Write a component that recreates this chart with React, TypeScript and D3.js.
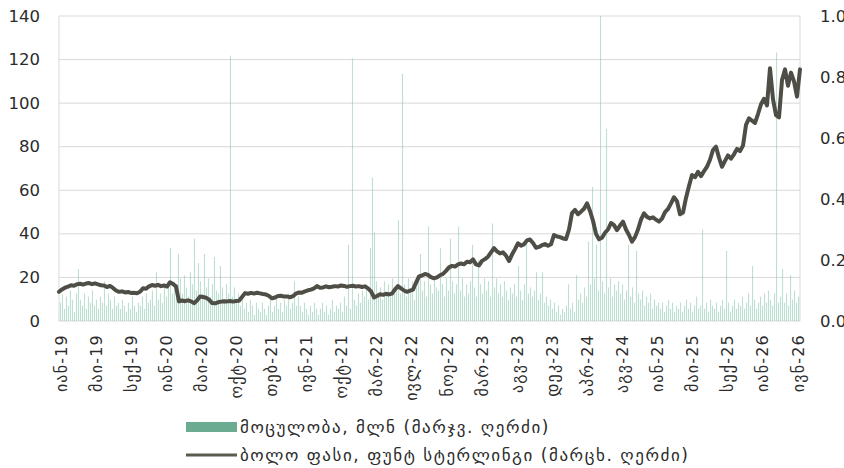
import React from "react";
import * as d3 from "d3";

// closing price (left axis), sampled uniformly over the period
const closePrice: number[] = [
  13.4, 14.5, 15.3, 15.8, 16.4, 16.2, 16.9, 17.1, 16.7, 17.2,
  17.4, 16.9, 17.3, 16.8, 16.4, 16.3, 15.6, 16.1, 15.2, 14.0,
  13.4, 13.6, 13.1, 13.3, 12.9, 13.0, 12.7, 13.4, 15.0, 14.8,
  15.9, 16.5, 16.2, 16.6, 16.0, 16.3, 15.8, 17.8, 17.0, 15.9,
  9.0, 9.4, 9.1, 9.5, 9.0, 8.2, 9.4, 11.2, 11.0, 10.7,
  9.8, 8.3, 8.1, 8.6, 8.9, 9.1, 9.0, 9.2, 8.9, 9.2,
  9.3, 11.0, 12.8, 12.5, 12.9, 12.6, 13.0, 12.7, 12.4, 12.2,
  11.5, 10.4, 10.8, 11.5, 11.6, 11.2, 11.3, 10.9, 11.4, 12.6,
  13.1, 13.0, 13.6, 14.1, 14.4, 15.0, 16.0, 15.3, 15.4, 15.9,
  15.5, 15.7, 16.0, 15.8, 16.3, 16.1, 15.7, 16.0, 16.2, 15.8,
  16.0, 15.6, 15.9, 15.0, 13.6, 10.8, 11.5, 12.3, 12.0, 12.5,
  12.2, 12.6, 14.5, 16.0, 15.0, 14.0, 13.4, 13.9, 14.4, 17.5,
  20.5, 20.9, 21.6, 21.2, 20.1, 19.6, 20.0, 21.0, 21.6, 23.0,
  24.6, 25.3, 25.0, 26.0, 26.4, 26.0, 27.2, 27.0, 28.3, 26.0,
  25.5, 27.6, 28.4, 29.5, 31.5, 33.4, 32.0, 31.0, 31.5, 30.0,
  27.5, 30.5, 33.0, 35.7, 34.6, 35.2, 37.0, 37.4, 35.8, 33.6,
  34.0, 34.8, 35.3, 34.5, 35.2, 39.5, 38.8, 38.5, 37.9, 37.6,
  42.0, 49.5, 51.0, 49.0, 50.2, 51.5, 54.0, 50.5, 46.0, 40.0,
  37.5, 38.2, 40.5, 42.0, 45.0, 44.0, 41.7, 43.8, 45.6, 42.0,
  39.5, 36.4, 38.5, 42.0, 46.5, 49.4, 47.8, 47.1, 47.6, 46.5,
  45.6, 47.0, 50.0, 51.4, 54.0, 56.8, 55.0, 49.0, 49.8, 56.5,
  62.0, 67.0, 66.0, 68.5, 66.5, 68.8, 70.8, 74.0, 78.5, 80.0,
  75.0, 70.8, 73.5, 76.0, 74.5, 76.5, 79.0, 78.0, 80.5, 90.0,
  93.0, 92.0, 90.9, 95.0, 99.5, 102.0, 99.0, 116.0, 101.8, 94.5,
  93.5, 110.6, 115.5, 108.0, 114.0, 110.0, 103.0, 115.5,
];

// traded volume, mln (right axis)
const volumeMln: number[] = [
  0.06, 0.09, 0.04, 0.08, 0.05, 0.10, 0.07, 0.03, 0.09, 0.17,
  0.07, 0.05, 0.09, 0.04, 0.08, 0.06, 0.10, 0.05, 0.07, 0.04,
  0.08, 0.06, 0.13, 0.05, 0.09, 0.07, 0.04, 0.08, 0.05, 0.06,
  0.04, 0.07, 0.05, 0.03, 0.06, 0.04, 0.08, 0.05, 0.03, 0.06,
  0.05, 0.08, 0.04, 0.09, 0.06, 0.07, 0.10, 0.05, 0.16, 0.07,
  0.09, 0.06, 0.11, 0.08, 0.12, 0.24, 0.09, 0.13, 0.10, 0.22,
  0.14, 0.09, 0.15, 0.11, 0.08, 0.16, 0.12, 0.27, 0.10, 0.19,
  0.13, 0.09, 0.22, 0.11, 0.14, 0.08, 0.12, 0.21, 0.10, 0.09,
  0.18, 0.11, 0.07, 0.12, 0.09, 0.87, 0.08, 0.11, 0.06, 0.09,
  0.05, 0.08, 0.04, 0.06, 0.03, 0.07, 0.05, 0.02, 0.06, 0.04,
  0.03, 0.06, 0.04, 0.02, 0.05, 0.07, 0.03, 0.05, 0.08, 0.04,
  0.06, 0.03, 0.07, 0.05, 0.09, 0.04, 0.06, 0.13, 0.05, 0.08,
  0.05, 0.03, 0.06, 0.04, 0.02, 0.05, 0.03, 0.06, 0.04, 0.02,
  0.04, 0.06, 0.03, 0.05, 0.02, 0.04, 0.07, 0.03, 0.05, 0.04,
  0.06, 0.03, 0.08, 0.05, 0.25, 0.04, 0.86, 0.07, 0.05, 0.09,
  0.06, 0.10, 0.08, 0.12, 0.07, 0.24, 0.47, 0.29, 0.13, 0.09,
  0.11, 0.07, 0.13, 0.09, 0.12, 0.08, 0.14, 0.10, 0.12, 0.33,
  0.09, 0.81, 0.12, 0.08, 0.14, 0.10, 0.13, 0.07, 0.11, 0.15,
  0.22, 0.10, 0.13, 0.08, 0.31, 0.12, 0.09, 0.14, 0.11, 0.10,
  0.24, 0.12, 0.08, 0.14, 0.10, 0.27, 0.13, 0.09, 0.12, 0.31,
  0.10, 0.14, 0.08, 0.12, 0.09, 0.13, 0.25, 0.11, 0.08, 0.20,
  0.12, 0.09, 0.14, 0.10, 0.13, 0.08, 0.32, 0.11, 0.14, 0.09,
  0.12, 0.08, 0.13, 0.10, 0.07, 0.11, 0.09, 0.12, 0.08, 0.18,
  0.10, 0.07, 0.12, 0.27, 0.09, 0.11, 0.08, 0.10, 0.16, 0.07,
  0.09, 0.16, 0.06, 0.08, 0.05, 0.07, 0.04, 0.06, 0.03, 0.05,
  0.02, 0.04, 0.03, 0.05, 0.12, 0.04, 0.06, 0.03, 0.15, 0.07,
  0.09, 0.06, 0.11, 0.08, 0.26, 0.12, 0.44, 0.14, 0.25, 0.10,
  1.0, 0.13, 0.09, 0.63, 0.11, 0.14, 0.08, 0.12, 0.10, 0.13,
  0.09, 0.12, 0.07, 0.10, 0.25, 0.08, 0.11, 0.06, 0.23, 0.09,
  0.07, 0.10, 0.05, 0.08, 0.06, 0.09, 0.04, 0.07, 0.05, 0.06,
  0.04, 0.06, 0.03, 0.05, 0.07, 0.04, 0.06, 0.03, 0.05, 0.04,
  0.06, 0.03, 0.05, 0.07, 0.04, 0.06, 0.03, 0.05, 0.08, 0.04,
  0.05, 0.30, 0.04, 0.06, 0.03, 0.07, 0.05, 0.04, 0.06, 0.03,
  0.05, 0.07, 0.04, 0.23, 0.06, 0.03, 0.05, 0.07, 0.04, 0.06,
  0.05, 0.08, 0.04, 0.06, 0.09, 0.05, 0.18, 0.07, 0.04, 0.06,
  0.08, 0.05, 0.09, 0.06, 0.10, 0.07, 0.05, 0.09, 0.88, 0.06,
  0.08, 0.17, 0.06, 0.09, 0.05, 0.15, 0.07, 0.10, 0.06, 0.08,
];

const tickLabels: string[] = [
  "იან-19", "მაი-19", "სექ-19", "იან-20", "მაი-20", "ოქტ-20", "თებ-21",
  "ივნ-21", "ოქტ-21", "მარ-22", "ივლ-22", "ნოე-22", "მარ-23", "აგვ-23",
  "დეკ-23", "აპრ-24", "აგვ-24", "იან-25", "მაი-25", "სექ-25", "იან-26", "ივნ-26",
];

const leftTicks: number[] = [0, 20, 40, 60, 80, 100, 120, 140];
const rightTicks: number[] = [0, 0.2, 0.4, 0.6, 0.8, 1.0];

const legendVolume = "მოცულობა, მლნ (მარჯვ. ღერძი)";
const legendPrice = "ბოლო ფასი, ფუნტ სტერლინგი (მარცხ. ღერძი)";

const W = 844;
const H = 468;
const M = { left: 59, right: 800, top: 16, bottom: 321 };
const FONT = "'DejaVu Sans', sans-serif";
const TEXT = "#2b2b2b";
const GRID = "#d9d9d9";

export default function App() {
  const yLeft = d3.scaleLinear().domain([0, 140]).range([M.bottom, M.top]);
  const yRight = d3.scaleLinear().domain([0, 1]).range([M.bottom, M.top]);
  const xLine = d3
    .scaleLinear()
    .domain([0, closePrice.length - 1])
    .range([M.left, M.right]);
  const xBar = d3
    .scaleBand<number>()
    .domain(d3.range(volumeMln.length))
    .range([M.left, M.right])
    .padding(0.45);
  const xTick = d3.scalePoint<string>().domain(tickLabels).range([61, 798]);

  const linePath =
    d3
      .line<number>()
      .x((_, i) => xLine(i))
      .y((d) => yLeft(d))(closePrice) || "";

  return (
    <svg
      width={W}
      height={H}
      style={{ position: "absolute", left: 0, top: 0, background: "#fff" }}
      fontFamily={FONT}
    >
      {/* grid */}
      {leftTicks.map((t) => (
        <line
          key={"g" + t}
          x1={M.left}
          x2={M.right}
          y1={yLeft(t)}
          y2={yLeft(t)}
          stroke={GRID}
          strokeWidth={1}
        />
      ))}
      <line x1={M.left} x2={M.left} y1={M.top} y2={M.bottom} stroke={GRID} />
      <line x1={M.right} x2={M.right} y1={M.top} y2={M.bottom} stroke={GRID} />

      {/* volume bars */}
      <g fill="#86c6ad" fillOpacity={0.55}>
        {volumeMln.map((v, i) => (
          <rect
            key={i}
            x={xBar(i)!}
            width={xBar.bandwidth()}
            y={yRight(v)}
            height={yRight(0) - yRight(v)}
          />
        ))}
      </g>

      {/* price line */}
      <path
        d={linePath}
        fill="none"
        stroke="#4e4e46"
        strokeWidth={4}
        strokeLinejoin="round"
        strokeLinecap="round"
      />

      {/* left axis labels */}
      {leftTicks.map((t) => (
        <text
          key={"l" + t}
          x={40}
          y={yLeft(t)}
          textAnchor="end"
          dominantBaseline="central"
          fontSize={16.5}
          fill={TEXT}
        >
          {t}
        </text>
      ))}

      {/* right axis labels */}
      {rightTicks.map((t) => (
        <text
          key={"r" + t}
          x={820}
          y={yRight(t)}
          textAnchor="start"
          dominantBaseline="central"
          fontSize={16.5}
          fill={TEXT}
        >
          {t.toFixed(1)}
        </text>
      ))}

      {/* x labels */}
      {tickLabels.map((l) => (
        <text
          key={l}
          transform={`translate(${xTick(l)},${334}) rotate(-90)`}
          textAnchor="end"
          dominantBaseline="central"
          fontSize={16}
          letterSpacing={1.2}
          fill={TEXT}
        >
          {l}
        </text>
      ))}

      {/* legend */}
      <rect x={186} y={422} width={51} height={10} fill="#6aab92" />
      <text x={240} y={427} dominantBaseline="central" fontSize={17} letterSpacing={1.55} fill={TEXT}>
        {legendVolume}
      </text>
      <line x1={186} x2={237} y1={455} y2={455} stroke="#5a5a4f" strokeWidth={3} />
      <text x={240} y={455} dominantBaseline="central" fontSize={17} letterSpacing={1.55} fill={TEXT}>
        {legendPrice}
      </text>
    </svg>
  );
}
